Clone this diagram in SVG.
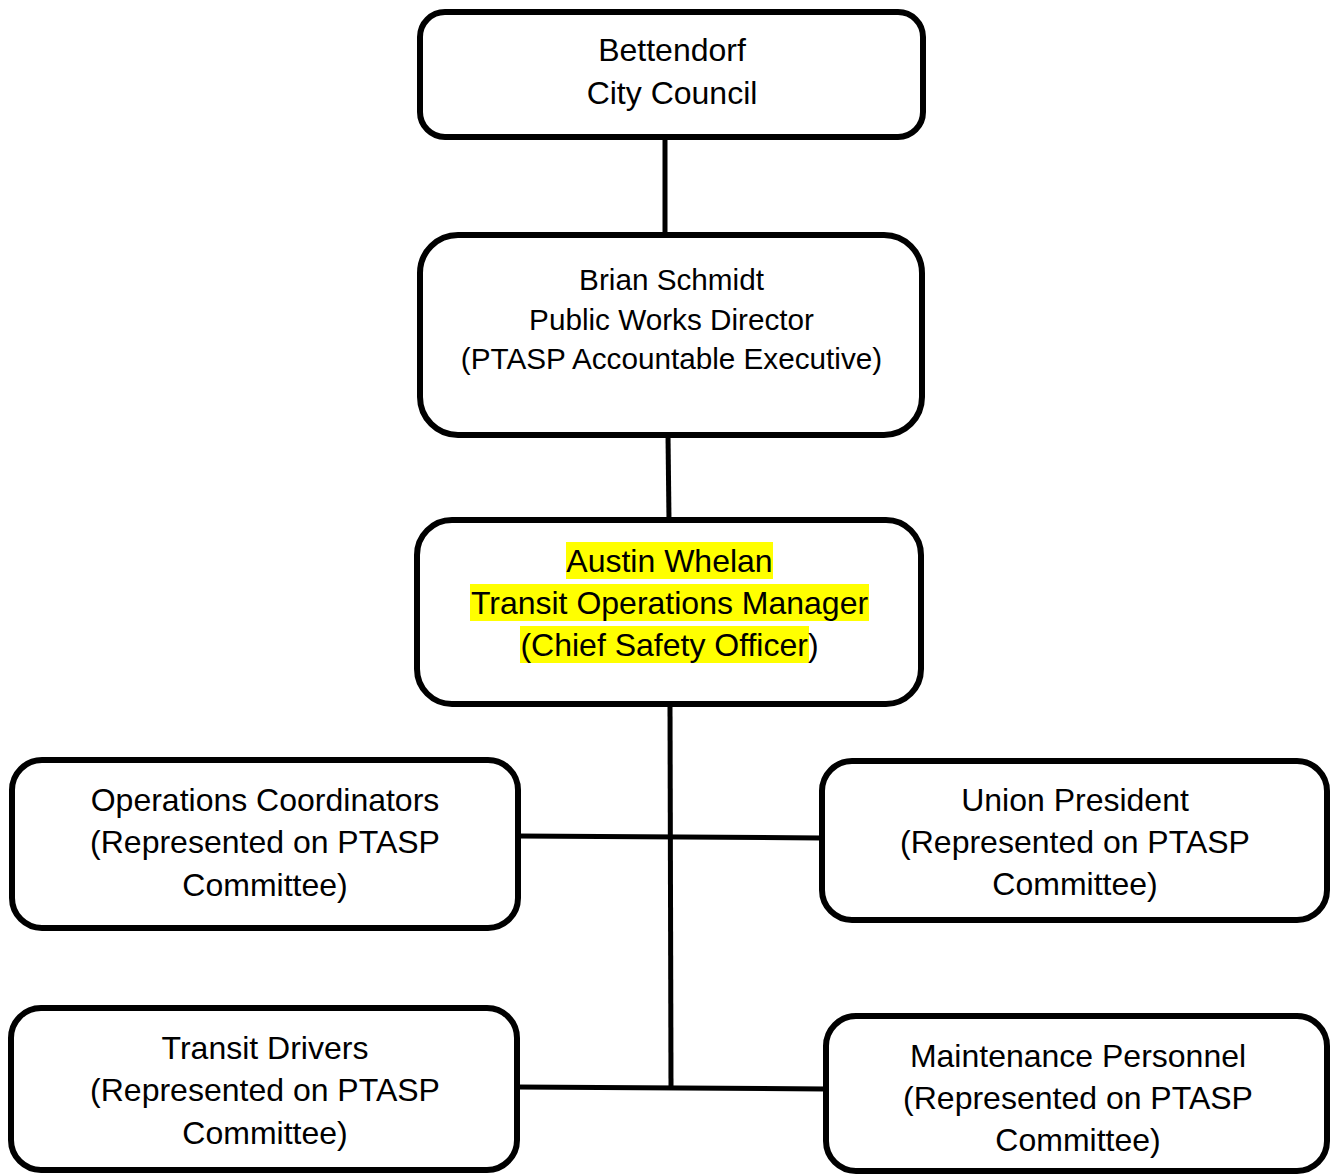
<svg xmlns="http://www.w3.org/2000/svg" width="1333" height="1174" viewBox="0 0 1333 1174">
<style>
.box{fill:#fff;stroke:#000;stroke-width:6}
.t{font-family:"Liberation Sans",Arial,sans-serif;font-size:32px;fill:#000;text-anchor:middle}
.s{font-size:29.7px}
.hl{fill:#ffff00}
.c{stroke:#000;stroke-width:5;fill:none}
</style>
<rect width="1333" height="1174" fill="#fff"/>
<g id="connectors">
<line class="c" x1="665" y1="137" x2="665" y2="235"/>
<line class="c" x1="668" y1="435" x2="669" y2="520"/>
<line class="c" x1="670" y1="704" x2="671" y2="1086"/>
<line class="c" x1="518" y1="836" x2="822" y2="838"/>
<line class="c" x1="517" y1="1087" x2="826" y2="1089"/>
</g>
<g id="council">
<rect class="box" x="420" y="12" width="503" height="125" rx="25"/>
<text class="t" x="672" y="61">Bettendorf</text>
<text class="t" x="672" y="104">City Council</text>
</g>
<g id="director">
<rect class="box" x="420" y="235" width="502" height="200" rx="38"/>
<text class="t s" x="671.5" y="290">Brian Schmidt</text>
<text class="t s" x="671.5" y="330">Public Works Director</text>
<text class="t s" x="671.5" y="369">(PTASP Accountable Executive)</text>
</g>
<g id="manager">
<rect class="box" x="417" y="520" width="504" height="184" rx="35"/>
<rect class="hl" x="566" y="542" width="207" height="37"/>
<rect class="hl" x="470" y="584" width="399" height="37"/>
<rect class="hl" x="520" y="626" width="289" height="37"/>
<text class="t" x="669.5" y="572">Austin Whelan</text>
<text class="t" x="669.5" y="614">Transit Operations Manager</text>
<text class="t" x="669.5" y="656">(Chief Safety Officer)</text>
</g>
<g id="coordinators">
<rect class="box" x="12" y="760" width="506" height="168" rx="30"/>
<text class="t" x="265" y="811">Operations Coordinators</text>
<text class="t" x="265" y="853">(Represented on PTASP</text>
<text class="t" x="265" y="896">Committee)</text>
</g>
<g id="union">
<rect class="box" x="822" y="761" width="505" height="159" rx="30"/>
<text class="t" x="1075" y="811">Union President</text>
<text class="t" x="1075" y="853">(Represented on PTASP</text>
<text class="t" x="1075" y="895">Committee)</text>
</g>
<g id="drivers">
<rect class="box" x="11" y="1008" width="506" height="162" rx="30"/>
<text class="t" x="265" y="1059">Transit Drivers</text>
<text class="t" x="265" y="1101">(Represented on PTASP</text>
<text class="t" x="265" y="1144">Committee)</text>
</g>
<g id="maintenance">
<rect class="box" x="826" y="1016" width="501" height="155" rx="30"/>
<text class="t" x="1078" y="1067">Maintenance Personnel</text>
<text class="t" x="1078" y="1109">(Represented on PTASP</text>
<text class="t" x="1078" y="1151">Committee)</text>
</g>
</svg>
